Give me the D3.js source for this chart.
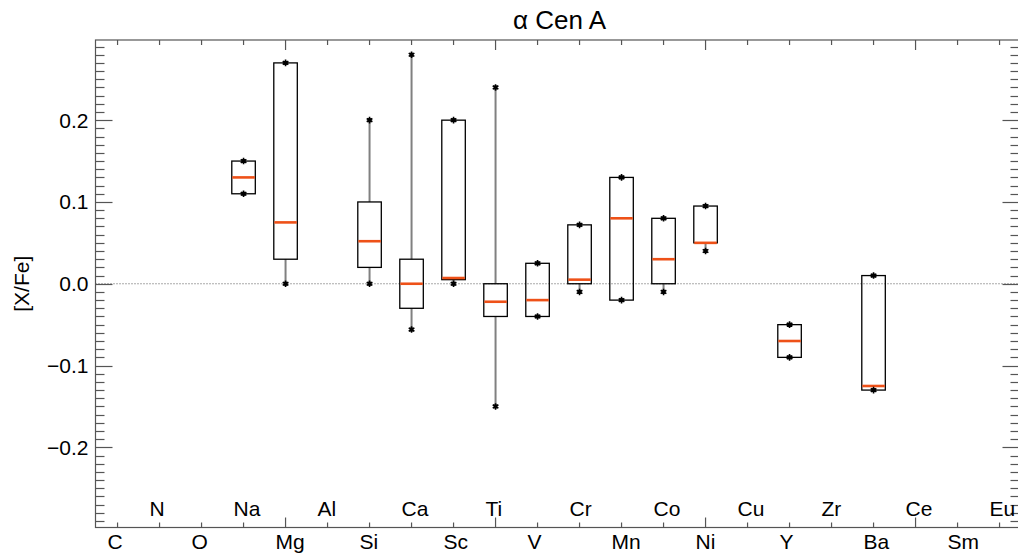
<!DOCTYPE html>
<html>
<head>
<meta charset="utf-8">
<script src="https://cdn.jsdelivr.net/npm/d3@7"></script>
<style>
  html, body { margin: 0; padding: 0; background: #fff; }
  svg { display: block; }
  text { font-family: "Liberation Sans", Arial, Helvetica, sans-serif; fill: #000; }
</style>
</head>
<body>
<svg id="chart" width="1018" height="553"></svg>
<script>
// Element labels along the x axis (positions 1..22)
const elements = ["C","N","O","Na","Mg","Al","Si","Ca","Sc","Ti","V",
                  "Cr","Mn","Co","Ni","Cu","Y","Zr","Ba","Ce","Sm","Eu"];

// Box statistics for the elements that have measurements
const boxElements = ["Na","Mg","Si","Ca","Sc","Ti","V","Cr","Mn","Co","Ni","Y","Ba"];
const mins    = [0.11, 0.00, 0.00, -0.056, 0.000, -0.15,  -0.04, -0.01, -0.02, -0.01, 0.04,  -0.09, -0.130];
const q1s     = [0.11, 0.03, 0.02, -0.030, 0.005, -0.04,  -0.04,  0.00, -0.02,  0.00, 0.05,  -0.09, -0.130];
const medians = [0.13, 0.075,0.052, 0.000, 0.007, -0.022, -0.02,  0.005, 0.08,  0.03, 0.05,  -0.07, -0.125];
const q3s     = [0.15, 0.27, 0.10,  0.030, 0.200,  0.00,   0.025, 0.072, 0.13,  0.08, 0.095, -0.05,  0.010];
const maxs    = [0.15, 0.27, 0.20,  0.280, 0.200,  0.24,   0.025, 0.072, 0.13,  0.08, 0.095, -0.05,  0.010];

const yMajorTicks = [-0.2, -0.1, 0.0, 0.1, 0.2];

const title = "α Cen A";
const yTitle = "[X/Fe]";

const svg = d3.select("#chart");
const plotL = 95.5, plotR = 1019.5, plotT = 40, plotB = 527.5;

const x = d3.scaleLinear().domain([0.475, 22.475]).range([plotL, plotR]);
const y = d3.scaleLinear().domain([-0.298, 0.298]).range([plotB, plotT]);

const axisColor = "#555";
const fontSize = 21;

// zero reference line
svg.append("line")
  .attr("x1", plotL).attr("x2", plotR)
  .attr("y1", y(0)).attr("y2", y(0))
  .attr("stroke", "#555").attr("stroke-width", 1)
  .attr("stroke-dasharray", "1,2");

// frame
svg.append("rect")
  .attr("x", plotL).attr("y", plotT)
  .attr("width", plotR - plotL).attr("height", plotB - plotT)
  .attr("fill", "none").attr("stroke", axisColor).attr("stroke-width", 1.2);

// y axes: left and right, ticks pointing inward
const yMinor = d3.range(-29, 30).map(d => d / 100);
function yTicks(sel, xPos, dir) {
  sel.selectAll(null).data(yMinor).enter().append("line")
    .attr("x1", xPos)
    .attr("x2", d => xPos + dir * (Math.abs(Math.round(d * 100)) % 10 === 0 ? 17 : 9))
    .attr("y1", d => Math.round(y(d)) + 0.5)
    .attr("y2", d => Math.round(y(d)) + 0.5)
    .attr("stroke", axisColor).attr("stroke-width", 1.2);
}
const gTicks = svg.append("g");
yTicks(gTicks, plotL, 1);
yTicks(gTicks, plotR, -1);

// x axes: bottom and top, ticks at each element, majors every 5
const xPositions = d3.range(1, elements.length + 1);
function xTicks(sel, yPos, dir) {
  sel.selectAll(null).data(xPositions).enter().append("line")
    .attr("x1", d => x(d)).attr("x2", d => x(d))
    .attr("y1", yPos)
    .attr("y2", d => yPos + dir * (d % 5 === 0 ? 10 : 5))
    .attr("stroke", axisColor).attr("stroke-width", 1.2);
}
xTicks(gTicks, plotB, -1);
xTicks(gTicks, plotT, 1);

// y tick labels
const fmt = d => (d < 0 ? "\u2212" : "") + Math.abs(d).toFixed(1);
svg.append("g").selectAll("text").data(yMajorTicks).enter().append("text")
  .attr("x", plotL - 7)
  .attr("y", d => y(d))
  .attr("dy", "0.35em")
  .attr("text-anchor", "end")
  .attr("font-size", fontSize)
  .text(fmt);

// element labels, alternating below the axis and just inside it
svg.append("g").selectAll("text").data(elements).enter().append("text")
  .attr("x", (d, i) => x(i + 1) - 10)
  .attr("y", (d, i) => i % 2 === 0 ? plotB + 21 : plotB - 11.5)
  .attr("text-anchor", "start")
  .attr("font-size", fontSize)
  .text(d => d);

// title and y-axis title
svg.append("text")
  .attr("x", (plotL + plotR) / 2 + 2).attr("y", 29)
  .attr("text-anchor", "middle")
  .attr("font-size", 26)
  .text(title);

svg.append("text")
  .attr("transform", `translate(29,${(plotT + plotB) / 2}) rotate(-90)`)
  .attr("text-anchor", "middle")
  .attr("font-size", fontSize)
  .text(yTitle);

// boxes
const halfW = 0.28;
const boxes = boxElements.map((el, i) => ({
  pos: elements.indexOf(el) + 1,
  min: mins[i], q1: q1s[i], med: medians[i], q3: q3s[i], max: maxs[i]
}));

const gBox = svg.append("g");
const whiskerColor = "#808080";

boxes.forEach(b => {
  const cx = x(b.pos);
  // whiskers outside the box
  if (b.max > b.q3) {
    gBox.append("line").attr("x1", cx).attr("x2", cx)
      .attr("y1", y(b.max)).attr("y2", y(b.q3))
      .attr("stroke", whiskerColor).attr("stroke-width", 2);
  }
  if (b.min < b.q1) {
    gBox.append("line").attr("x1", cx).attr("x2", cx)
      .attr("y1", y(b.q1)).attr("y2", y(b.min))
      .attr("stroke", whiskerColor).attr("stroke-width", 2);
  }
  // interquartile box
  gBox.append("rect")
    .attr("x", x(b.pos - halfW)).attr("width", x(b.pos + halfW) - x(b.pos - halfW))
    .attr("y", y(b.q3)).attr("height", y(b.q1) - y(b.q3))
    .attr("fill", "none").attr("stroke", "#000").attr("stroke-width", 1.3);
  // median
  gBox.append("line")
    .attr("x1", x(b.pos - halfW) + 0.5).attr("x2", x(b.pos + halfW) - 0.5)
    .attr("y1", y(b.med)).attr("y2", y(b.med))
    .attr("stroke", "#ee5118").attr("stroke-width", 2.6);
  // extreme values as asterisks
  [b.min, b.max].forEach(v => {
    gBox.append("path")
      .attr("transform", `translate(${cx},${y(v)})`)
      .attr("d", d3.symbol().type(d3.symbolAsterisk).size(30)())
      .attr("fill", "none").attr("stroke", "#000").attr("stroke-width", 1.6);
    gBox.append("rect")
      .attr("x", cx - 2).attr("y", y(v) - 2).attr("width", 4).attr("height", 4)
      .attr("fill", "#000");
  });
});
</script>
</body>
</html>
